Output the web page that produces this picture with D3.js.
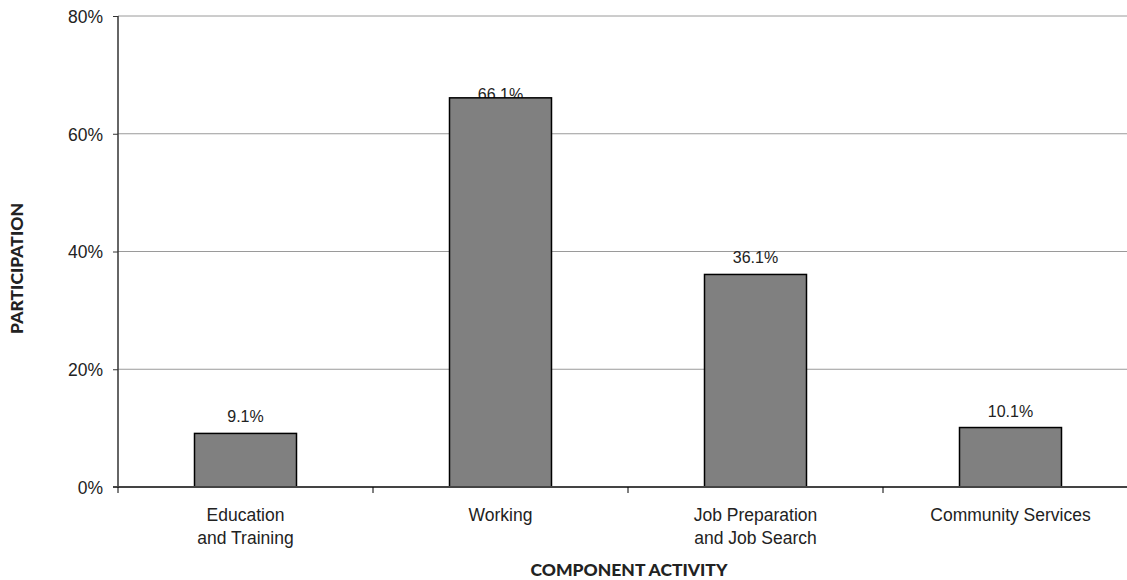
<!DOCTYPE html>
<html>
<head>
<meta charset="utf-8">
<script src="https://cdn.jsdelivr.net/npm/d3@7"></script>
<style>
  html, body { margin: 0; padding: 0; background: #fff; overflow: hidden; }
  svg { display: block; }
</style>
</head>
<body>
<svg id="chart" width="1127" height="580"></svg>
<script>
// Component activity participation
const categories = ["Education\nand Training", "Working", "Job Preparation\nand Job Search", "Community Services"];
const participation = [9.1, 66.1, 36.1, 10.1];
const yTicks = [0, 20, 40, 60, 80];

const W = 1127, H = 580;
const margin = { top: 16, left: 118, bottom: 93 };
const plotW = 1020;               // plot runs past the right edge
const plotBottom = H - margin.bottom;

const svg = d3.select("#chart");

const x = d3.scaleBand()
  .domain(categories)
  .range([margin.left, margin.left + plotW])
  .paddingInner(0).paddingOuter(0);

const y = d3.scaleLinear()
  .domain([0, 80])
  .range([plotBottom, margin.top]);

const tickFont = "'Liberation Sans', Arial, sans-serif";

// horizontal gridlines
svg.append("g")
  .selectAll("line")
  .data(yTicks.filter(t => t > 0))
  .join("line")
  .attr("x1", margin.left).attr("x2", margin.left + plotW)
  .attr("y1", d => y(d)).attr("y2", d => y(d))
  .attr("stroke", "#9a9a9a")
  .attr("stroke-width", 1);

// y axis
const yAxis = svg.append("g")
  .attr("transform", `translate(${margin.left},0)`)
  .call(d3.axisLeft(y).tickValues(yTicks).tickFormat(d => d + "%").tickSize(5).tickPadding(10));
yAxis.select(".domain").attr("stroke", "#333").attr("stroke-width", 1.5)
  .attr("d", `M0,${y(80)}V${plotBottom}`);
yAxis.selectAll(".tick line").attr("stroke", "#333");
yAxis.selectAll(".tick text")
  .attr("font-family", tickFont).attr("font-size", 17.5).attr("fill", "#222")
  .attr("dy", "0.36em");

// labels stay below this line so they fit under the top of the plot
const labelTopLimit = margin.top + 84;

// value labels (drawn before bars so a bar can sit over its label)
svg.append("g")
  .selectAll("text")
  .data(categories)
  .join("text")
  .attr("x", d => x(d) + x.bandwidth() / 2)
  .attr("y", (d, i) => Math.max(y(participation[i]) - 11, labelTopLimit))
  .attr("text-anchor", "middle")
  .attr("font-family", tickFont)
  .attr("font-size", 16)
  .attr("fill", "#222")
  .text((d, i) => participation[i].toFixed(1) + "%");

// bars
const barW = x.bandwidth() * 0.4;
svg.append("g")
  .selectAll("rect")
  .data(categories)
  .join("rect")
  .attr("x", d => x(d) + (x.bandwidth() - barW) / 2)
  .attr("y", (d, i) => y(participation[i]))
  .attr("width", barW)
  .attr("height", (d, i) => plotBottom - y(participation[i]))
  .attr("fill", "#808080")
  .attr("stroke", "#000")
  .attr("stroke-width", 1.5);

// x axis
const xAxis = svg.append("g")
  .attr("transform", `translate(0,${plotBottom})`)
  .call(d3.axisBottom(x).tickSize(0).tickFormat(""));
xAxis.select(".domain").attr("stroke", "#444").attr("stroke-width", 2)
  .attr("d", `M${margin.left - 5},0H${margin.left + plotW}`);

// category boundary ticks
svg.append("g")
  .selectAll("line")
  .data(categories)
  .join("line")
  .attr("x1", d => x(d)).attr("x2", d => x(d))
  .attr("y1", plotBottom).attr("y2", plotBottom + 6)
  .attr("stroke", "#000").attr("stroke-width", 1);

// category labels
const catLabels = svg.append("g")
  .selectAll("text")
  .data(categories)
  .join("text")
  .attr("x", d => x(d) + x.bandwidth() / 2)
  .attr("y", plotBottom + 34)
  .attr("text-anchor", "middle")
  .attr("font-family", tickFont)
  .attr("font-size", 17.5)
  .attr("fill", "#222");
catLabels.each(function(d) {
  const t = d3.select(this);
  d.split("\n").forEach((line, i) => {
    t.append("tspan")
      .attr("x", x(d) + x.bandwidth() / 2)
      .attr("dy", i === 0 ? 0 : 23)
      .text(line);
  });
});

// axis titles
const titleFont = "'Lato', 'Open Sans', sans-serif";
svg.append("text")
  .attr("x", 629).attr("y", 576)
  .attr("text-anchor", "middle")
  .attr("font-family", titleFont)
  .attr("font-weight", 900)
  .attr("font-size", 17.5)
  .attr("fill", "#222")
  .text("COMPONENT ACTIVITY");

svg.append("text")
  .attr("transform", `translate(23,${(margin.top + plotBottom) / 2 + 17}) rotate(-90)`)
  .attr("text-anchor", "middle")
  .attr("font-family", titleFont)
  .attr("font-weight", 900)
  .attr("font-size", 17.5)
  .attr("fill", "#222")
  .text("PARTICIPATION");
</script>
</body>
</html>
